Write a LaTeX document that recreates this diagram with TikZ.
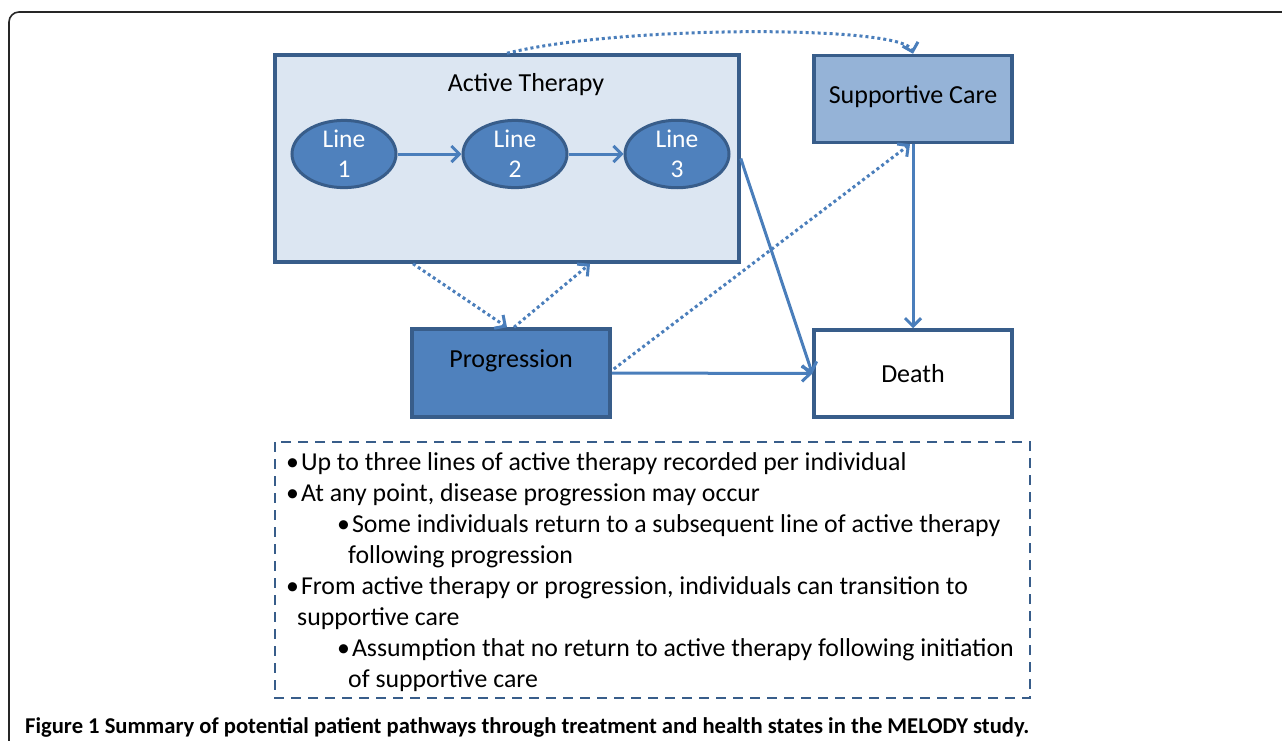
\documentclass[tikz,border=0pt]{standalone}
\usepackage{fontspec}
\setmainfont{Carlito}
\usepackage{tikz}
\usetikzlibrary{shapes.geometric, arrows.meta, positioning, calc}
\definecolor{boxedge}{HTML}{385D8A}
\definecolor{arrowblue}{HTML}{4A7EBB}
\definecolor{paleblue}{HTML}{DCE6F2}
\definecolor{midblue}{HTML}{95B3D7}
\definecolor{darkblue}{HTML}{4F81BD}
\tikzstyle{statebox} = [draw=boxedge, line width=3.5pt, minimum width=198pt, minimum height=87pt, inner sep=0pt, font=\fontsize{26}{30}\selectfont]
\tikzstyle{lineoval} = [ellipse, draw=boxedge, fill=darkblue, line width=3pt, minimum width=104pt, minimum height=61pt, inner sep=0pt, text=white, align=center, font=\fontsize{25.5}{30}\selectfont]
\tikzstyle{arrow} = [arrowblue, line width=3pt, -{Straight Barb[length=8pt,width=16pt]}]
\tikzstyle{dotarrow} = [arrow, dash pattern=on 3pt off 3pt]
\tikzstyle{note} = [anchor=base west, inner sep=0pt, font=\fontsize{25.8}{30}\selectfont]

\begin{document}
\begin{tikzpicture}[x=1pt, y=-1pt]
    \useasboundingbox (0,0) rectangle (1282,740);
    \draw[line width=1.6pt, black!85, rounded corners=10pt] (9,780) |- (1320,12);

    % states
    \node[statebox, fill=paleblue, minimum width=464pt, minimum height=207pt] (at) at (507,158.5) {};
    \node[font=\fontsize{26}{30}\selectfont] (attitle) at (526,85) {Active Therapy};
    \node[lineoval] (l1) at (344,154) {Line\\1};
    \node[lineoval] (l2) at (515,154) {Line\\2};
    \node[lineoval] (l3) at (677,154) {Line\\3};
    \node[statebox, fill=midblue, text depth=9pt] (sc) at (913,99) {Supportive Care};
    \node[statebox, fill=white] (death) at (913,373.5) {Death};
    \node[statebox, fill=darkblue, minimum height=88pt] (prog) at (511,373) {};
    \node[font=\fontsize{26}{30}\selectfont] (progtitle) at (511,361) {Progression};

    % transitions
    \draw[arrow] (l1) -- (l2);
    \draw[arrow] (l2) -- (l3);
    \draw[dotarrow] (at.north) .. controls (620,25) and (905,25) .. (sc.north);
    \draw[dotarrow] ($(at.south)+(-94,0)$) -- ($(prog.north)+(-4,0)$);
    \draw[dotarrow] ($(prog.north)+(3,0)$) -- ($(at.south)+(83,0)$);
    \draw[dotarrow] ($(prog.east)+(2,-4)$) -- ($(sc.south)+(-3,0)$);
    \draw[arrow] (at.east) -- (death.west);
    \draw[arrow] (prog.east) -- (death.west);
    \draw[arrow] (sc.south) -- (death.north);

    % notes
    \draw[boxedge, line width=2.8pt, dash pattern=on 10pt off 7pt] (275,442) rectangle (1030,698);
    \node[note] (n1) at (286,470) {\textbullet\hspace{2pt}Up to three lines of active therapy recorded per individual};
    \node[note] (n2) at (286,501) {\textbullet\hspace{2pt}At any point, disease progression may occur};
    \node[note] (n3) at (337,532) {\textbullet\hspace{2pt}Some individuals return to a subsequent line of active therapy};
    \node[note] (n4) at (348,563) {following progression};
    \node[note] (n5) at (286,594) {\textbullet\hspace{2pt}From active therapy or progression, individuals can transition to};
    \node[note] (n6) at (297,625) {supportive care};
    \node[note] (n7) at (337,656) {\textbullet\hspace{2pt}Assumption that no return to active therapy following initiation};
    \node[note] (n8) at (348,687) {of supportive care};

    \node[anchor=base west, inner sep=0pt, font=\bfseries\fontsize{22.6}{26}\selectfont] (caption) at (25,733) {Figure 1 Summary of potential patient pathways through treatment and health states in the MELODY study.};
\end{tikzpicture}
\end{document}
